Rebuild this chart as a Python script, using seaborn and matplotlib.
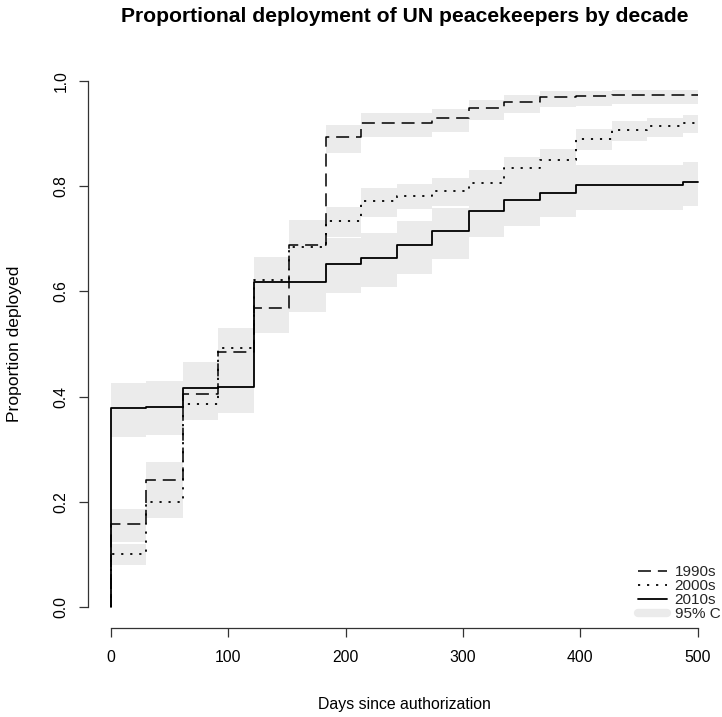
import numpy as np
import pandas as pd
import matplotlib
matplotlib.use("Agg")
import matplotlib.pyplot as plt
from matplotlib.lines import Line2D
import seaborn as sns

# ---- data ----
days = [0, 30, 61, 91, 122, 152, 183, 213, 244, 274, 305, 335, 366, 396, 427, 457, 488, 500]

p1990 = [0.157, 0.241, 0.405, 0.485, 0.568, 0.688, 0.894, 0.921, 0.921, 0.929, 0.949, 0.960,
         0.970, 0.971, 0.974, 0.974, 0.974, 0.974]
lo1990 = [0.124, 0.205, 0.360, 0.440, 0.520, 0.640, 0.864, 0.893, 0.893, 0.904, 0.926, 0.940,
          0.950, 0.953, 0.956, 0.956, 0.956, 0.956]
hi1990 = [0.186, 0.276, 0.450, 0.530, 0.615, 0.735, 0.916, 0.940, 0.940, 0.946, 0.964, 0.973,
          0.981, 0.981, 0.983, 0.983, 0.983, 0.983]

p2000 = [0.101, 0.200, 0.385, 0.492, 0.622, 0.685, 0.734, 0.771, 0.781, 0.791, 0.807, 0.835,
         0.849, 0.890, 0.906, 0.914, 0.921, 0.921]
lo2000 = [0.080, 0.170, 0.355, 0.455, 0.580, 0.645, 0.704, 0.742, 0.757, 0.763, 0.777, 0.800,
          0.813, 0.869, 0.886, 0.894, 0.901, 0.901]
hi2000 = [0.120, 0.235, 0.420, 0.525, 0.666, 0.725, 0.761, 0.796, 0.805, 0.815, 0.831, 0.856,
          0.870, 0.909, 0.924, 0.929, 0.935, 0.935]

p2010 = [0.378, 0.381, 0.416, 0.419, 0.617, 0.617, 0.652, 0.664, 0.688, 0.714, 0.752, 0.774,
         0.788, 0.803, 0.803, 0.803, 0.808, 0.808]
lo2010 = [0.324, 0.327, 0.365, 0.368, 0.561, 0.561, 0.597, 0.608, 0.634, 0.662, 0.703, 0.724,
          0.741, 0.755, 0.755, 0.755, 0.762, 0.762]
hi2010 = [0.426, 0.430, 0.466, 0.468, 0.666, 0.666, 0.701, 0.711, 0.733, 0.758, 0.797, 0.820,
          0.835, 0.840, 0.840, 0.840, 0.847, 0.847]

decades = ["1990s", "2000s", "2010s"]
series = {"1990s": (p1990, lo1990, hi1990),
          "2000s": (p2000, lo2000, hi2000),
          "2010s": (p2010, lo2010, hi2010)}

xticks = [0, 100, 200, 300, 400, 500]
yticks = [0.0, 0.2, 0.4, 0.6, 0.8, 1.0]

# ---- styling ----
sns.set_theme(style="white")
plt.rcParams["font.family"] = ["Liberation Sans", "DejaVu Sans"]

W, H = 722, 717
fig = plt.figure(figsize=(W / 100, H / 100), dpi=100)
left, right, top, bottom = 87.6, 721.0, 60.0, 628.0
ax = fig.add_axes([left / W, 1 - bottom / H, (right - left) / W, (bottom - top) / H])

band_col = "#EBEBEB"
styles = {
    "1990s": dict(lw=1.1, dashes=(8.5, 4.5)),
    "2000s": dict(lw=1.3, dashes=(1.2, 3.8)),
    "2010s": dict(lw=1.3, dashes=()),
}

# CI bands
for d in decades:
    p, lo, hi = series[d]
    ax.fill_between(days, lo, hi, step="post", color=band_col, lw=0, zorder=1)

# step lines (starting from 0 at day 0)
for d in decades:
    p, lo, hi = series[d]
    df = pd.DataFrame({"day": [0] + days, "prop": [0.0] + p})
    kw = styles[d]
    sns.lineplot(data=df, x="day", y="prop", sort=False, estimator=None,
                 drawstyle="steps-post", color="black", lw=kw["lw"],
                 ax=ax, zorder=3)
    ln = ax.lines[-1]
    if kw["dashes"]:
        ln.set_dashes(kw["dashes"])

ax.set_xlim(-20, 520)
ax.set_ylim(-0.04, 1.04)
ax.set_xticks(xticks)
ax.set_xticklabels([str(v) for v in xticks])
ax.set_yticks(yticks)
ax.set_yticklabels([f"{v:.1f}" for v in yticks])

for s in ["top", "right"]:
    ax.spines[s].set_visible(False)
for s in ["left", "bottom"]:
    ax.spines[s].set_color("#333333")
    ax.spines[s].set_linewidth(0.9)
ax.spines["left"].set_bounds(0, 1)
ax.spines["bottom"].set_bounds(0, 500)

ax.tick_params(axis="both", which="major", length=6.5, width=0.9, color="#333333",
               labelsize=11.3, labelcolor="black", direction="out",
               left=True, bottom=True)
ax.tick_params(axis="x", pad=9)
ax.tick_params(axis="y", pad=7, labelrotation=90)
for lab in ax.get_yticklabels():
    lab.set_va("center")

ax.set_xlabel("Days since authorization", fontsize=11.4, color="black")
ax.set_ylabel("Proportion deployed", fontsize=12.6, color="black")
ax.xaxis.set_label_coords((404 - left) / (right - left), -(705 - bottom) / (bottom - top))
ax.xaxis.label.set_va("center")
ax.yaxis.set_label_coords(-(left - 14) / (right - left), 0.5)
ax.yaxis.label.set_va("center")

ax.set_title("Proportional deployment of UN peacekeepers by decade",
             fontsize=15.2, fontweight="bold", color="black",
             y=(bottom - 17) / (bottom - top), va="center", pad=0)

ax.grid(False)

# legend (extends past the right edge like the reference)
handles = [
    Line2D([], [], color="black", lw=1.1, dashes=(8.5, 4.5)),
    Line2D([], [], color="black", lw=1.3, dashes=(1.2, 3.8)),
    Line2D([], [], color="black", lw=1.3),
    Line2D([], [], color=band_col, lw=6, solid_capstyle="round"),
]
labels = ["1990s", "2000s", "2010s", "95% CI"]
leg = ax.legend(handles, labels, loc="upper left",
                bbox_to_anchor=(638 / W, 1 - 565 / H), bbox_transform=fig.transFigure,
                frameon=False, fontsize=11, handlelength=1.9, handletextpad=0.5,
                labelspacing=0.0, borderpad=0, borderaxespad=0)

fig.savefig("out.png", dpi=100, facecolor="white")
